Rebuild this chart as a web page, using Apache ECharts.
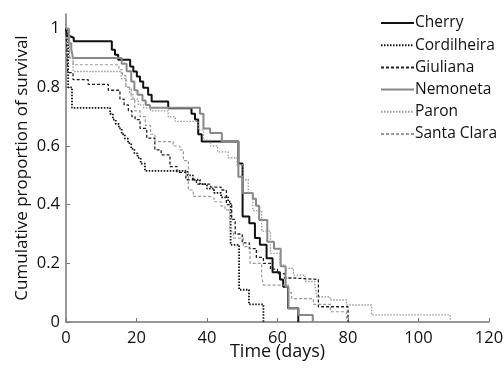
<!DOCTYPE html>
<html>
<head>
<meta charset="utf-8">
<script src="https://cdn.jsdelivr.net/npm/echarts@6/dist/echarts.min.js"></script>
<style>html,body{margin:0;padding:0;background:#fff}#c{width:504px;height:370px}</style>
</head>
<body>
<div id="c"></div>
<script>
// Kaplan-Meier step data: time (days) and survival after each step
const cherryT = [0, 0.3, 1.2, 2.2, 13, 13.9, 14.8, 18.2, 19.1, 20.1, 21, 21.9, 23.3, 24.3, 29, 35.6, 36.6, 37.5, 38.5, 48.9, 50.1, 52, 53.6, 55, 56.9, 58.6, 60.7, 61.6, 63, 65.9];
const cherryS = [1, 0.974, 0.969, 0.957, 0.928, 0.911, 0.894, 0.871, 0.854, 0.837, 0.82, 0.799, 0.775, 0.752, 0.729, 0.71, 0.69, 0.64, 0.615, 0.54, 0.36, 0.337, 0.286, 0.263, 0.217, 0.17, 0.145, 0.12, 0.047, 0];

const cordT = [0, 0.6, 1.7, 12.5, 13.3, 14.1, 15, 15.8, 16.7, 17.6, 18.5, 19.4, 20.3, 21.2, 22.4, 34.5, 36, 38, 40, 42, 44, 46, 46.7, 49.1, 51.9, 56];
const cordS = [1, 0.80, 0.73, 0.71, 0.69, 0.675, 0.66, 0.64, 0.625, 0.61, 0.59, 0.575, 0.56, 0.54, 0.515, 0.50, 0.485, 0.47, 0.455, 0.44, 0.425, 0.41, 0.263, 0.11, 0.06, 0];

const giuT = [0, 0.5, 2, 6.3, 12, 15.3, 16.5, 17.7, 18.7, 19.6, 21, 22.9, 25.2, 27, 29.5, 31.5, 34, 37, 41, 44, 45.5, 47, 48, 50, 52, 54, 56, 58, 60, 62, 64.5, 71.6, 80];
const giuS = [1, 0.85, 0.826, 0.81, 0.79, 0.76, 0.74, 0.72, 0.70, 0.69, 0.66, 0.627, 0.587, 0.57, 0.53, 0.51, 0.485, 0.47, 0.46, 0.45, 0.40, 0.35, 0.30, 0.27, 0.25, 0.22, 0.2, 0.18, 0.165, 0.15, 0.145, 0.052, 0];

const nemT = [0, 0.8, 1.5, 2, 15.8, 17.2, 18.5, 19.4, 20.3, 21.7, 22.6, 23.8, 38, 39, 40.9, 44.2, 48.9, 50.1, 53, 53.9, 54.8, 57.1, 59, 60.9, 62.3, 63.1, 65.9, 70];
const nemS = [1, 0.95, 0.93, 0.90, 0.88, 0.855, 0.82, 0.79, 0.775, 0.755, 0.74, 0.73, 0.71, 0.66, 0.644, 0.615, 0.495, 0.44, 0.42, 0.396, 0.348, 0.274, 0.25, 0.19, 0.12, 0.047, 0.024, 0];

const paronT = [0, 1, 2, 15.7, 17, 18, 19, 20.5, 22, 24, 29, 31, 37.5, 39, 41, 43, 46, 48.5, 50.3, 51.7, 53, 55.5, 58, 60.7, 62.1, 64.5, 67.8, 70.6, 71.1, 74.9, 79.6, 86.7, 109];
const paronS = [1, 0.9, 0.854, 0.83, 0.80, 0.78, 0.76, 0.74, 0.73, 0.72, 0.70, 0.684, 0.655, 0.62, 0.60, 0.58, 0.56, 0.536, 0.485, 0.44, 0.38, 0.31, 0.234, 0.195, 0.183, 0.16, 0.138, 0.126, 0.086, 0.075, 0.058, 0.024, 0];

const scT = [0, 1, 2, 15, 16, 17, 18.5, 19.5, 21, 22.5, 24, 25.2, 30.4, 32.3, 33.3, 34.7, 36.1, 40.9, 42, 44, 45.1, 46.5, 47.5, 50.3, 52.2, 55.5, 56, 63.1, 64, 70.2, 75, 79.6];
const scS = [1, 0.90, 0.877, 0.86, 0.84, 0.80, 0.76, 0.72, 0.70, 0.67, 0.64, 0.615, 0.60, 0.587, 0.55, 0.45, 0.428, 0.422, 0.41, 0.395, 0.382, 0.308, 0.286, 0.257, 0.2, 0.155, 0.126, 0.10, 0.08, 0.06, 0.035, 0];

const xTicks = [0, 20, 40, 60, 80, 100, 120];
const yTicks = [0, 0.2, 0.4, 0.6, 0.8, 1];

function zip(t, s) { return t.map((v, i) => [v, s[i]]); }

const FONT = 'Open Sans';
const chart = echarts.init(document.getElementById('c'), null, {renderer: 'canvas'});

function mk(name, t, s, color, width, type) {
  return {
    name: name, type: 'line', step: 'end', data: zip(t, s),
    symbol: 'none', showSymbol: false, animation: false,
    lineStyle: {color: color, width: width, type: type},
    itemStyle: {color: color}
  };
}

chart.setOption({
  animation: false,
  grid: {left: 66, right: 15, top: 14, bottom: 48, containLabel: false, outerBoundsMode: 'none'},
  legend: {
    orient: 'vertical', left: 375, top: 10,
    itemWidth: 33, itemHeight: 14, itemGap: 6.2,
    itemStyle: {opacity: 0},
    textStyle: {fontFamily: FONT, fontSize: 15.5, color: '#111', padding: [0, 0, 0, -4]}
  },
  xAxis: {
    type: 'value', min: 0, max: 120, interval: 20,
    name: 'Time (days)', nameLocation: 'middle', nameGap: 21, nameMoveOverlap: false,
    nameTextStyle: {fontFamily: FONT, fontSize: 18, color: '#111'},
    axisLine: {lineStyle: {color: '#777', width: 1.5}},
    axisTick: {inside: true, length: 4, lineStyle: {color: '#777'}},
    axisLabel: {fontFamily: FONT, fontSize: 16.5, color: '#111', margin: 8,
      formatter: v => xTicks.includes(v) ? String(v) : ''},
    splitLine: {show: false}
  },
  yAxis: {
    type: 'value', min: 0, max: 1.05, interval: 0.2,
    name: 'Cumulative proportion of survival', nameLocation: 'middle', nameGap: 35, nameMoveOverlap: false,
    nameTextStyle: {fontFamily: FONT, fontSize: 17, color: '#111'},
    axisLine: {show: true, lineStyle: {color: '#777', width: 1.5}},
    axisTick: {show: true, inside: true, length: 4, lineStyle: {color: '#777'}},
    axisLabel: {fontFamily: FONT, fontSize: 16.5, color: '#111', margin: 6, showMaxLabel: false,
      formatter: v => {
        const r = Math.round(v * 10) / 10;
        return yTicks.some(y => Math.abs(y - v) < 1e-6) ? String(r) : '';
      }},
    splitLine: {show: false}
  },
  series: [
    mk('Cherry', cherryT, cherryS, '#111', 2, 'solid'),
    mk('Cordilheira', cordT, cordS, '#111', 1.8, [1.5, 1.5]),
    mk('Giuliana', giuT, giuS, '#222', 1.3, [3, 2]),
    mk('Nemoneta', nemT, nemS, '#888', 2, 'solid'),
    mk('Paron', paronT, paronS, '#999', 1.3, [1.5, 1.5]),
    mk('Santa Clara', scT, scS, '#999', 1.2, [3, 2])
  ]
});
</script>
</body>
</html>
